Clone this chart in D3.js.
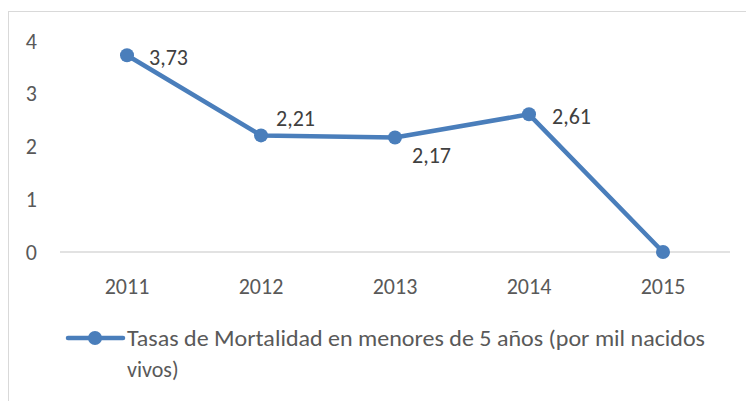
<!DOCTYPE html>
<html>
<head>
<meta charset="utf-8">
<script src="https://cdn.jsdelivr.net/npm/d3@7"></script>
<style>
  body { margin: 0; background: #fff; }
  text { font-family: Carlito, Calibri, Lato, sans-serif; }
</style>
</head>
<body>
<svg id="chart" width="746" height="401"></svg>
<script>
// data
const years = ['2011', '2012', '2013', '2014', '2015'];
const rates = [3.73, 2.21, 2.17, 2.61, 0];
const labels = ['3,73', '2,21', '2,17', '2,61', null];
const yTicks = [0, 1, 2, 3, 4];
const seriesName = 'Tasas de Mortalidad en menores de 5 años (por mil nacidos';
const seriesName2 = 'vivos)';

const svg = d3.select('#chart');
const blue = '#4a7ebb';

// chart frame
svg.append('rect')
    .attr('x', 8.5).attr('y', 11.5)
    .attr('width', 760).attr('height', 420)
    .attr('fill', 'none').attr('stroke', '#d9d9d9');

let x = d3.scaleBand().domain(years).range([60, 730]);
let y = d3.scaleLinear().domain([0, 4]).range([252, 41]);

// baseline
svg.append('line')
    .attr('x1', 60).attr('x2', 730)
    .attr('y1', y(0)).attr('y2', y(0))
    .attr('stroke', '#d9d9d9').attr('stroke-width', 1.5);

// y labels
svg.append('g').selectAll('text')
    .data(yTicks)
    .join('text')
    .attr('x', 37).attr('y', d => y(d))
    .attr('dy', '0.35em')
    .attr('text-anchor', 'end')
    .attr('fill', '#595959')
    .attr('font-size', 22)
    .text(d => d);

// x labels
svg.append('g').selectAll('text')
    .data(years)
    .join('text')
    .attr('x', d => x(d) + x.bandwidth()/2).attr('y', 286)
    .attr('dy', '0.35em')
    .attr('text-anchor', 'middle')
    .attr('fill', '#595959')
    .attr('font-size', 22)
    .text(d => d);

let pts = years.map((yr, i) => [x(yr) + x.bandwidth()/2, y(rates[i])]);

svg.append('path')
    .attr('d', d3.line()(pts))
    .attr('fill', 'none').attr('stroke', blue)
    .attr('stroke-width', 4.5).attr('stroke-linejoin', 'round');

svg.append('g').selectAll('circle')
    .data(pts)
    .join('circle')
    .attr('cx', d => d[0]).attr('cy', d => d[1])
    .attr('r', 7).attr('fill', blue);

// data labels: offsets per point like the original
const offsets = [[22, 2], [15, -17], [17, 18], [23, 2]];
svg.append('g').selectAll('text')
    .data(labels.filter(l => l !== null))
    .join('text')
    .attr('x', (d, i) => pts[i][0] + offsets[i][0])
    .attr('y', (d, i) => pts[i][1] + offsets[i][1])
    .attr('dy', '0.35em')
    .attr('fill', '#404040')
    .attr('font-size', 22)
    .text(d => d);

// legend
svg.append('line')
    .attr('x1', 68).attr('x2', 123)
    .attr('y1', 338).attr('y2', 338)
    .attr('stroke', blue).attr('stroke-width', 4.5)
    .attr('stroke-linecap', 'round');
svg.append('circle')
    .attr('cx', 95).attr('cy', 338).attr('r', 7).attr('fill', blue);

svg.append('text')
    .attr('x', 127).attr('y', 338).attr('dy', '0.35em')
    .attr('fill', '#595959').attr('font-size', 22)
    .attr('textLength', 578).attr('lengthAdjust', 'spacingAndGlyphs')
    .text(seriesName);
svg.append('text')
    .attr('x', 127).attr('y', 369).attr('dy', '0.35em')
    .attr('fill', '#595959').attr('font-size', 22)
    .text(seriesName2);
</script>
</body>
</html>
